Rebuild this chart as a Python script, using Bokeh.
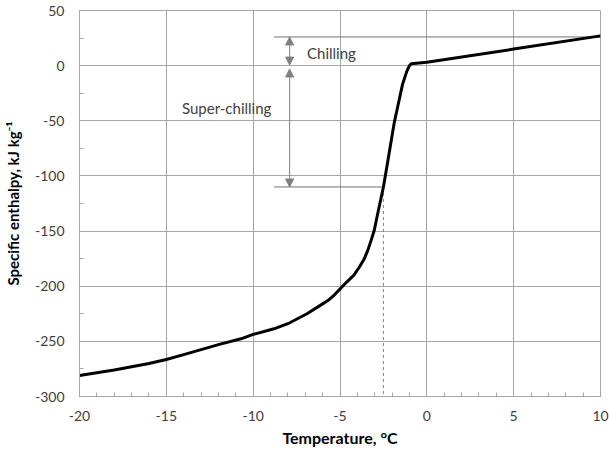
from bokeh.plotting import figure
from bokeh.models import Arrow, NormalHead, Label, FixedTicker, Range1d, PrintfTickFormatter
from bokeh.embed import file_html
from bokeh.resources import INLINE

# Enthalpy curve: temperature (°C) and specific enthalpy (kJ/kg)
temperature = [-20, -18, -16, -15, -14, -12, -10.7, -10, -8.8, -8, -6.9, -6, -5.7,
               -5.33, -5.0, -4.6, -4.2, -3.9, -3.6, -3.4, -3.2, -3.03, -2.8, -2.5,
               -2.25, -1.88, -1.4, -1.15, -1.0, -0.9, 0, 5, 10]
enthalpy = [-281, -276, -270, -266.5, -262, -253, -247.7, -243.7, -238.6, -234, -225,
            -216, -213, -208, -202.5, -196, -190, -183, -175, -167.5, -158, -149.5,
            -132, -110, -87, -52, -17, -5, 0, 1.8, 3, 15, 27]

# Chilling / super-chilling bands
chill_top = 26
chill_bottom = 0
superchill_bottom = -110
superchill_temp = -2.5
bracket_start = -8.8
arrow_temp = -7.9

x_ticks = [-20, -15, -10, -5, 0, 5, 10]
y_ticks = [50, 0, -50, -100, -150, -200, -250, -300]

FONT = "Lato"
GRID = "#a6a6a6"
ANNOT = "#808080"

p = figure(width=609, height=450, output_backend="svg", toolbar_location=None,
           x_range=Range1d(-20, 10), y_range=Range1d(-300, 50),
           min_border_left=78, min_border_right=9, min_border_top=10,
           min_border_bottom=54)
p.outline_line_color = GRID
p.background_fill_color = "white"
p.border_fill_color = "white"

for ax in (p.xaxis[0], p.yaxis[0]):
    ax.axis_line_color = GRID
    ax.major_tick_out = 0
    ax.major_tick_in = 0
    ax.minor_tick_in = 4
    ax.minor_tick_out = 0
    ax.minor_tick_line_color = GRID
    ax.formatter = PrintfTickFormatter(format="%d")
    ax.major_label_text_font = FONT
    ax.major_label_text_font_size = "14px"
    ax.major_label_text_color = "#404040"
    ax.axis_label_text_font = FONT
    ax.axis_label_text_font_style = "bold"
    ax.axis_label_text_color = "black"

p.xaxis.axis_label_text_font_size = "16px"
p.yaxis.axis_label_text_font_size = "15px"

p.xaxis.ticker = FixedTicker(ticks=x_ticks,
                             minor_ticks=[t for t in range(-20, 11)])
p.yaxis.ticker = FixedTicker(ticks=y_ticks,
                             minor_ticks=[t for t in range(-300, 51, 25)])
p.xaxis.axis_label = "Temperature, °C"
p.yaxis.axis_label = "Specific enthalpy, kJ kg⁻¹"
p.xaxis.major_label_standoff = 14
p.xaxis.axis_label_standoff = 4
p.yaxis.major_label_standoff = 15
p.yaxis.axis_label_standoff = 10

p.xgrid.ticker = FixedTicker(ticks=x_ticks)
p.ygrid.ticker = FixedTicker(ticks=y_ticks)
p.xgrid.grid_line_color = GRID
p.ygrid.grid_line_color = GRID

# Bracket lines and the dashed drop line
p.segment(x0=[bracket_start, bracket_start], y0=[chill_top, superchill_bottom],
          x1=[10, superchill_temp], y1=[chill_top, superchill_bottom],
          line_color="#707070", line_width=1)
p.segment(x0=[superchill_temp], y0=[superchill_bottom], x1=[superchill_temp], y1=[-300],
          line_color=ANNOT, line_width=1, line_dash="3 3")

# Double-headed arrows
for y_a, y_b in [(chill_top, chill_bottom + 0.5), (chill_bottom - 3, superchill_bottom)]:
    p.add_layout(Arrow(x_start=arrow_temp, y_start=y_a, x_end=arrow_temp, y_end=y_b,
                       line_color=ANNOT, line_width=1,
                       start=NormalHead(size=8, fill_color=ANNOT, line_color=ANNOT),
                       end=NormalHead(size=8, fill_color=ANNOT, line_color=ANNOT)))

p.line(temperature, enthalpy, line_color="black", line_width=3, line_join="round")

p.add_layout(Label(x=-6.9, y=11.6, text="Chilling", text_font=FONT,
                   text_font_size="15px", text_color="#404040",
                   text_baseline="middle"))
p.add_layout(Label(x=-14.1, y=-38, text="Super-chilling", text_font=FONT,
                   text_font_size="15px", text_color="#404040",
                   text_baseline="middle"))

open("out.html", "w").write(file_html(p, INLINE))
